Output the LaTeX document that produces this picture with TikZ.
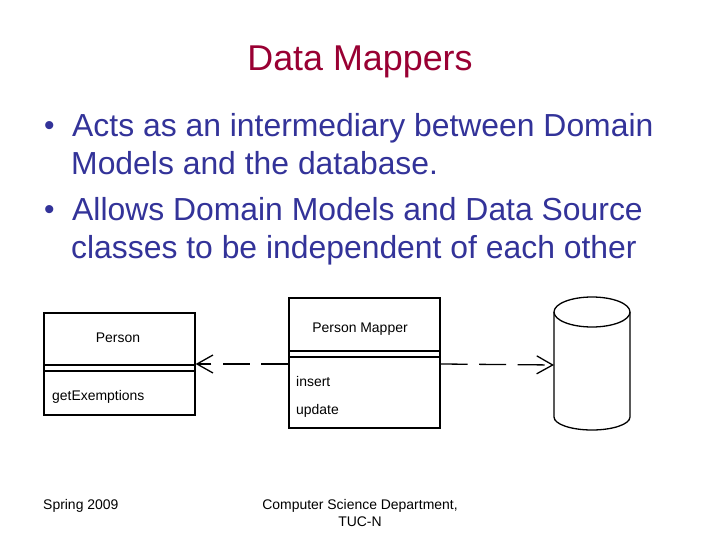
\documentclass[tikz,border=0pt]{standalone}
\usepackage{fontspec}
\setmainfont{Liberation Sans}
\usetikzlibrary{arrows.meta}
\definecolor{titlered}{RGB}{153,0,51}
\definecolor{bodyblue}{RGB}{51,51,153}

\begin{document}
\begin{tikzpicture}[x=1bp, y=-1bp,
    txt/.style={inner sep=0pt, anchor=base west},
    umlbox/.style={draw, line width=1.3bp, inner sep=0pt},
    umlfont/.style={font=\fontsize{14}{16}\selectfont},
    dep/.style={line width=1.3bp, dash pattern=on 27bp off 11.5bp,
                -{Straight Barb[length=16bp,width=18bp,line width=1.3bp]}}]
    \useasboundingbox[fill=white] (0,0) rectangle (720,540);

    % title and bullets
    \node[inner sep=0pt, anchor=base, text=titlered, font=\fontsize{36}{40}\selectfont] (title) at (360,71) {Data Mappers};
    \node[txt, text=bodyblue, font=\fontsize{30}{34}\selectfont] (dot1) at (44,136) {\textbullet};
    \node[txt, text=bodyblue, font=\fontsize{32}{38}\selectfont] (b1a) at (72,137) {Acts as an intermediary between Domain};
    \node[txt, text=bodyblue, font=\fontsize{32}{38}\selectfont] (b1b) at (71,175) {Models and the database.};
    \node[txt, text=bodyblue, font=\fontsize{30}{34}\selectfont] (dot2) at (44,220) {\textbullet};
    \node[txt, text=bodyblue, font=\fontsize{32}{38}\selectfont] (b2a) at (72,221) {Allows Domain Models and Data Source};
    \node[txt, text=bodyblue, font=\fontsize{32}{38}\selectfont] (b2b) at (71,259) {classes to be independent of each other};

    % Person class
    \node[umlbox, minimum width=151bp, minimum height=102bp] (person) at (119.5,364) {};
    \draw[line width=1.3bp] (person.west |- 0,365) -- (person.east |- 0,365);
    \draw[line width=1.3bp] (person.west |- 0,371) -- (person.east |- 0,371);
    \node[inner sep=0pt, anchor=base, umlfont] (pname) at (118,342) {Person};
    \node[txt, umlfont] (pop) at (52,400) {getExemptions};

    % mapper class
    \node[umlbox, minimum width=151bp, minimum height=130bp] (mapper) at (364.5,363) {};
    \draw[line width=1.3bp] (mapper.west |- 0,351) -- (mapper.east |- 0,351);
    \draw[line width=1.3bp] (mapper.west |- 0,357) -- (mapper.east |- 0,357);
    \node[inner sep=0pt, anchor=base, umlfont] (mname) at (360,332) {Person Mapper};
    \node[txt, umlfont] (mop1) at (296,386) {insert};
    \node[txt, umlfont] (mop2) at (296,414) {update};

    % database
    \draw[line width=1.3bp] (592,312) ellipse [x radius=38, y radius=15];
    \draw[line width=1.3bp] (554,312) -- (554,417) arc[start angle=180, end angle=0, x radius=38, y radius=13] -- (630,312);
    \coordinate (db) at (554,365);

    % dependencies
    \draw[dep] (mapper.west |- person.east) -- (person.east);
    \draw[dep] (mapper.east |- person.east) -- (db);

    % footer
    \node[txt, font=\fontsize{14}{16}\selectfont] (date) at (43,509) {Spring 2009};
    \node[inner sep=0pt, anchor=base, font=\fontsize{14}{16}\selectfont] (dept1) at (360,509) {Computer Science Department,};
    \node[inner sep=0pt, anchor=base, font=\fontsize{14}{16}\selectfont] (dept2) at (360,526) {TUC-N};
\end{tikzpicture}
\end{document}
